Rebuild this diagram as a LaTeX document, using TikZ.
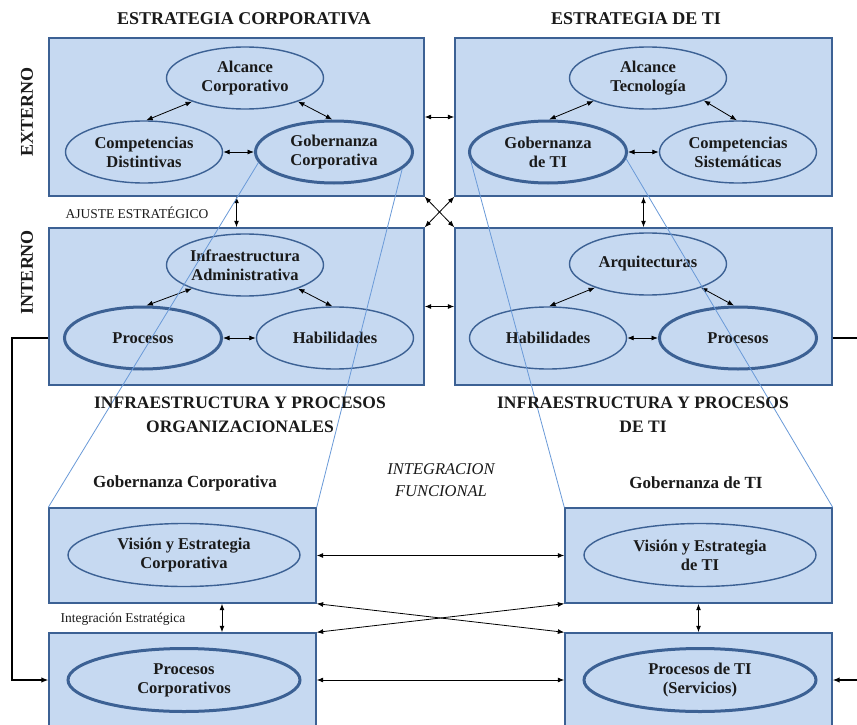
\documentclass[tikz,border=0pt]{standalone}
\usepackage{fontspec}
\setmainfont{Liberation Serif}
\usetikzlibrary{shapes.geometric,arrows.meta,calc}
\definecolor{boxfill}{HTML}{C6D9F1}
\definecolor{boxline}{HTML}{3C6194}
\definecolor{thinblue}{HTML}{6A9AD8}
\definecolor{txt}{HTML}{1A1A1A}
\tikzset{
  boxst/.style={draw=boxline,fill=boxfill,line width=1.4pt,rectangle,inner sep=0pt},
  ell/.style={draw=boxline,fill=boxfill,line width=1.4pt,ellipse,inner sep=0pt,
     minimum width=157pt,minimum height=62pt,align=center,text=txt,
     font=\bfseries\fontsize{16.5}{19}\selectfont},
  ellthick/.style={ell,line width=3pt},
  bigell/.style={ell,minimum width=232pt,minimum height=63pt},
  bigellthick/.style={bigell,line width=3pt},
  arr/.style={{Latex[length=6.5pt,width=5pt]}-{Latex[length=6.5pt,width=5pt]},line width=0.8pt,draw=black},
  arrv/.style={arr,line width=1pt},
  blkln/.style={line width=1.2pt,draw=black},
  blueln/.style={line width=0.8pt,draw=thinblue},
  title/.style={text=txt,font=\bfseries\fontsize{18}{24}\selectfont,align=center,inner sep=0pt},
  subtitle/.style={text=txt,font=\bfseries\fontsize{17.5}{24}\selectfont,align=center,inner sep=0pt},
  small/.style={text=txt,font=\fontsize{13.5}{16}\selectfont,inner sep=0pt},
  ital/.style={text=txt,font=\itshape\fontsize{16.5}{22}\selectfont,align=center,inner sep=0pt}
}
\begin{document}
\begin{tikzpicture}[x=1pt,y=-1pt]
\useasboundingbox (0,0) rectangle (857,725);
\clip (0,0) rectangle (857,725);
\fill[white] (0,0) rectangle (857,725);

% boxes
\node[boxst,minimum width=375pt,minimum height=158pt] (tl) at (236.5,117) {};
\node[boxst,minimum width=377pt,minimum height=158pt] (tr) at (643.5,117) {};
\node[boxst,minimum width=375pt,minimum height=157pt] (ml) at (236.5,306.5) {};
\node[boxst,minimum width=377pt,minimum height=157pt] (mr) at (643.5,306.5) {};
\node[boxst,minimum width=267pt,minimum height=95pt] (bl1) at (182.5,555.5) {};
\node[boxst,minimum width=267pt,minimum height=110pt] (bl2) at (182.5,688) {};
\node[boxst,minimum width=267pt,minimum height=95pt] (br1) at (698.5,555.5) {};
\node[boxst,minimum width=267pt,minimum height=110pt] (br2) at (698.5,688) {};

% ellipses top-left
\node[ell] (alcC) at (245,78) {Alcance\\Corporativo};
\node[ell] (compD) at (144,152) {Competencias\\Distintivas};
\node[ellthick] (gobC) at (334,152) {Gobernanza\\Corporativa};
% top-right
\node[ell] (alcT) at (648,78) {Alcance\\Tecnología};
\node[ellthick] (gobTI) at (548,152) {Gobernanza\\de TI};
\node[ell] (compS) at (738,152) {Competencias\\Sistemáticas};
% mid-left
\node[ell] (infA) at (245,265) {Infraestructura\\Administrativa};
\node[ellthick] (procL) at (143,338) {Procesos};
\node[ell] (habL) at (335,338) {Habilidades};
% mid-right
\node[ell] (arq) at (648,264) {Arquitecturas};
\node[ell] (habR) at (548,338) {Habilidades};
\node[ellthick] (procR) at (738,338) {Procesos};
% bottom
\node[bigell] (visC) at (184,555) {Visión y Estrategia\\Corporativa};
\node[bigellthick] (procC) at (184,680) {Procesos\\Corporativos};
\node[bigell] (visT) at (700,555) {Visión y Estrategia\\de TI};
\node[bigellthick] (procT) at (700,680) {Procesos de TI\\(Servicios)};

% arrows inside quadrants
\draw[arr] (alcC.204) -- (compD.86);
\draw[arr] (alcC.336) -- (gobC.93);
\draw[arr] (compD.east) -- (gobC.west);
\draw[arr] (alcT.203) -- (gobTI.88);
\draw[arr] (alcT.338) -- (compS.92);
\draw[arr] (gobTI.east) -- (compS.west);
\draw[arr] (infA.204) -- (procL.84);
\draw[arr] (infA.336) -- (habL.95);
\draw[arr] (procL.east) -- (habL.west);
\draw[arr] (arq.204) -- (habR.88);
\draw[arr] (arq.336) -- (procR.97);
\draw[arr] (habR.east) -- (procR.west);

% arrows between boxes
\draw[arr] (tl.east) -- (tr.west);
\draw[arrv] (tl.south) -- (ml.north);
\draw[arrv] (tr.south) -- (mr.north);
\draw[arr] (tl.south east) -- (mr.north west);
\draw[arr] (tr.south west) -- (ml.north east);
\draw[arr] (ml.east) -- (mr.west);

\draw[arr] (bl1.east) -- (br1.west);
\draw[arr] (bl1.south east) -- (br2.north west);
\draw[arr] (br1.south west) -- (bl2.north east);
\draw[arr] (procC -| bl2.east) -- (procC -| br2.west);
\coordinate (v1) at (222,600);
\draw[arrv] (v1 |- bl1.south) -- (v1 |- bl2.north);
\draw[arrv] (br1.south) -- (br2.north);

% side connectors
\coordinate (lx) at (12,0);
\coordinate (rx) at (870,0);
\draw[blkln,-{Latex[length=7pt,width=5.5pt]}] (procL -| ml.west) -- (procL -| lx) -- (procC -| lx) -- (procC -| bl2.west);
\draw[blkln] (procR -| mr.east) -- (procR -| rx);
\draw[blkln,-{Latex[length=7pt,width=5.5pt]}] (procT -| rx) -- (procT -| br2.east);

% thin blue lines
\draw[blueln] (gobC.188) -- (bl1.north west);
\draw[blueln] (gobC.346) -- (bl1.north east);
\draw[blueln] (gobTI.186) -- (br1.north west);
\draw[blueln] (gobTI.355) -- (br1.north east);

% texts
\node[title] (t1) at (244,19) {ESTRATEGIA CORPORATIVA};
\node[title] (t2) at (636,19) {ESTRATEGIA DE TI};
\node[title,rotate=90] (t3) at (27,112) {EXTERNO};
\node[title,rotate=90] (t4) at (27,272) {INTERNO};
\node[small] (t5) at (137,213) {AJUSTE ESTRATÉGICO};
\node[subtitle] (t6) at (240,415) {INFRAESTRUCTURA Y PROCESOS\\ORGANIZACIONALES};
\node[subtitle] (t7) at (643,415) {INFRAESTRUCTURA Y PROCESOS\\DE TI};
\node[subtitle,font=\bfseries\fontsize{17}{22}\selectfont] (t8) at (185,483) {Gobernanza Corporativa};
\node[subtitle,font=\bfseries\fontsize{17}{22}\selectfont] (t9) at (696,483) {Gobernanza de TI};
\node[ital] (t10) at (441,480) {INTEGRACION\\FUNCIONAL};
\node[small] (t11) at (123,619) {Integración Estratégica};
\end{tikzpicture}
\end{document}
